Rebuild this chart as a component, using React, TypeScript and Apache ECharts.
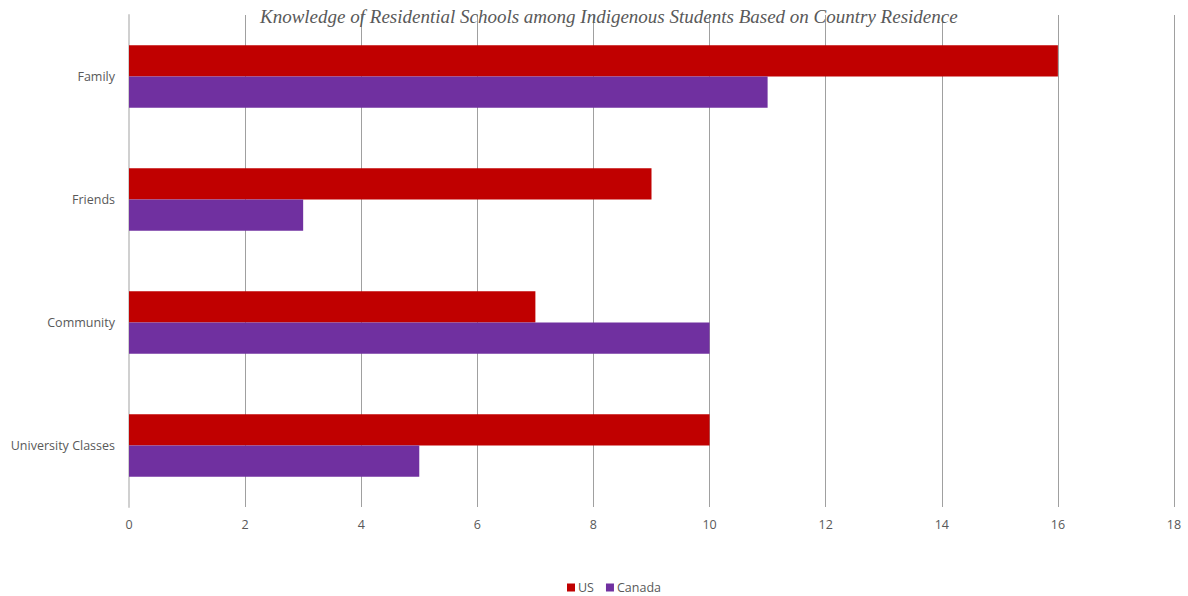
import React, { useEffect, useRef } from "react";
import * as echarts from "echarts";

const categories = ["Family", "Friends", "Community", "University Classes"];
const usValues = [16, 9, 7, 10];
const canadaValues = [11, 3, 10, 5];
const titleText = "Knowledge of Residential Schools among Indigenous Students Based on Country Residence";

export default function App() {
  const ref = useRef<HTMLDivElement>(null);
  useEffect(() => {
    const chart = echarts.init(ref.current!, null, { renderer: "svg" });
    chart.setOption({
      animation: false,
      title: {
        text: titleText,
        left: 255,
        top: 2,
        textStyle: {
          fontFamily: "Liberation Serif",
          fontStyle: "italic",
          fontWeight: "normal",
          fontSize: 19,
          color: "#595959",
        },
      },
      legend: {
        top: 581,
        left: 567,
        padding: 0,
        itemWidth: 8,
        itemHeight: 8,
        itemGap: 12,
        icon: "rect",
        textStyle: { fontFamily: "Open Sans", fontSize: 12.5, color: "#595959", padding: [0, 0, 0, -2] },
        data: ["US", "Canada"],
      },
      grid: { left: 129, right: 14, top: 15, bottom: 89, containLabel: false },
      xAxis: {
        type: "value",
        min: 0,
        max: 18,
        interval: 2,
        axisLine: { show: false },
        axisTick: { show: false },
        axisLabel: { fontFamily: "Open Sans", fontSize: 12.5, color: "#595959", margin: 11 },
        splitLine: { show: true, lineStyle: { color: "#a0a0a0", width: 1 } },
      },
      yAxis: {
        type: "category",
        inverse: true,
        data: categories,
        axisLine: { show: true, lineStyle: { color: "#d0d0d0", width: 2 } },
        axisTick: { show: false },
        axisLabel: { fontFamily: "Open Sans", fontSize: 12.5, color: "#595959", margin: 14 },
      },
      series: [
        {
          name: "US",
          type: "bar",
          data: usValues,
          itemStyle: { color: "#C00000" },
          barGap: "0%",
          barCategoryGap: "49%",
        },
        {
          name: "Canada",
          type: "bar",
          data: canadaValues,
          itemStyle: { color: "#7030A0" },
          barGap: "0%",
          barCategoryGap: "49%",
        },
      ],
    });
    return () => chart.dispose();
  }, []);
  return <div ref={ref} style={{ width: 1188, height: 596, position: "absolute", left: 0, top: 0 }} />;
}
